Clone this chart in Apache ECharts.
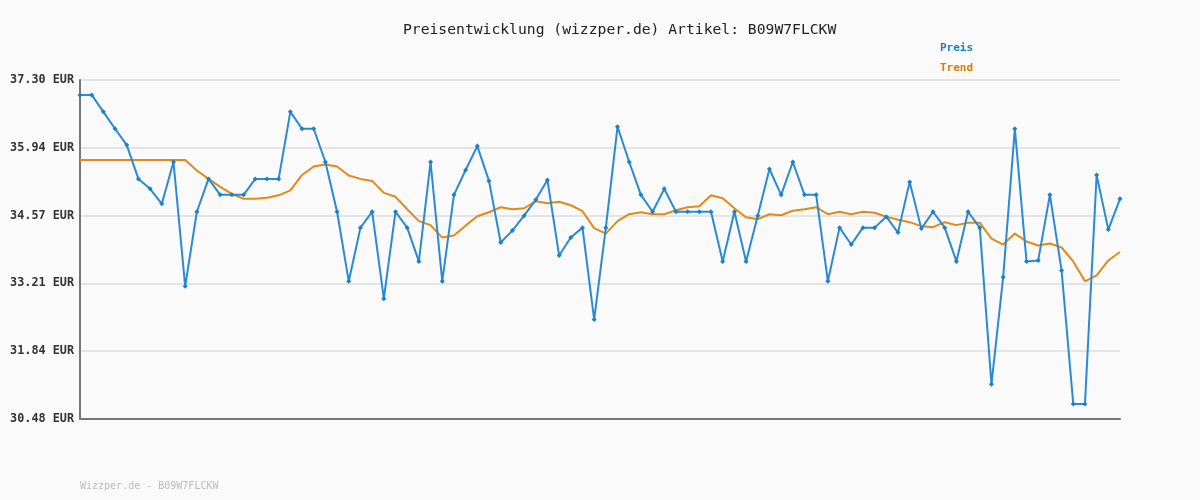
<!DOCTYPE html>
<html><head><meta charset="utf-8">
<script src="https://cdn.jsdelivr.net/npm/echarts@6/dist/echarts.min.js"></script>
<style>html,body{margin:0;padding:0;background:#fafafa}#c{width:1200px;height:500px}</style>
</head><body><div id="c"></div>
<script>
const titleText = 'Preisentwicklung (wizzper.de) Artikel: B09W7FLCKW';
const footerText = 'Wizzper.de - B09W7FLCKW';
const seriesNames = ['Preis', 'Trend'];
const yMin = 30.48, yMax = 37.30;
const preis = [
37.00,37.00,36.66,36.32,35.99,35.31,35.11,34.81,35.65,33.15,
34.65,35.31,34.99,34.99,34.99,35.31,35.31,35.31,36.66,36.32,
36.32,35.65,34.65,33.25,34.33,34.65,32.90,34.65,34.33,33.65,
35.65,33.25,34.99,35.49,35.97,35.27,34.03,34.27,34.57,34.89,
35.29,33.77,34.13,34.33,32.48,34.33,36.36,35.65,34.99,34.65,
35.11,34.65,34.65,34.65,34.65,33.65,34.65,33.65,34.57,35.51,
34.99,35.65,34.99,34.99,33.25,34.33,33.99,34.33,34.33,34.55,
34.23,35.25,34.31,34.65,34.33,33.65,34.65,34.33,31.18,33.33,
36.32,33.65,33.67,34.99,33.47,30.78,30.78,35.39,34.29,34.91];
const trend = [
35.69,35.69,35.69,35.69,35.69,35.69,35.69,35.69,35.69,35.69,
35.48,35.31,35.15,35.01,34.91,34.91,34.93,34.98,35.08,35.39,
35.56,35.60,35.56,35.38,35.31,35.27,35.03,34.95,34.70,34.46,
34.38,34.13,34.17,34.37,34.56,34.64,34.74,34.70,34.72,34.86,
34.82,34.85,34.78,34.66,34.32,34.21,34.46,34.60,34.64,34.60,
34.60,34.68,34.74,34.76,34.98,34.92,34.72,34.54,34.50,34.60,
34.58,34.67,34.70,34.74,34.60,34.65,34.60,34.65,34.63,34.55,
34.49,34.44,34.36,34.34,34.44,34.38,34.43,34.43,34.11,33.99,
34.21,34.05,33.97,34.01,33.93,33.65,33.25,33.37,33.67,33.84];
const categories = preis.map((_, i) => String(i + 1));
const mono = 'DejaVu Sans Mono';
const chart = echarts.init(document.getElementById('c'));
chart.setOption({
  backgroundColor: '#fafafa',
  animation: false,
  title: { text: titleText, left: 398, top: 18,
    textStyle: { fontFamily: mono, fontSize: 14.7, fontWeight: 'normal', color: '#222' } },
  legend: { orient: 'vertical', left: 930, top: 38, itemGap: 9, itemWidth: 0, itemHeight: 0, icon: 'none',
    data: [
      { name: seriesNames[0], textStyle: { color: '#1a80c8' } },
      { name: seriesNames[1], textStyle: { color: '#e07b00' } }
    ],
    textStyle: { fontFamily: mono, fontSize: 11, fontWeight: 'bold' } },
  graphic: [{ type: 'text', left: 80, top: 481,
    style: { text: footerText, fill: '#bbb', font: '10px ' + mono } }],
  grid: { left: 80, right: 80, top: 80, bottom: 81 },
  xAxis: { type: 'category', data: categories, boundaryGap: false,
    axisLine: { lineStyle: { color: '#777', width: 2 } },
    axisTick: { show: false }, axisLabel: { show: false }, splitLine: { show: false } },
  yAxis: { type: 'value', min: yMin, max: yMax, interval: (yMax - yMin) / 5,
    axisLine: { show: true, lineStyle: { color: '#777', width: 2 } },
    axisTick: { show: false },
    axisLabel: { formatter: v => v.toFixed(2) + ' EUR', fontFamily: mono, fontSize: 11.8,
      fontWeight: 'bold', color: '#333', margin: 6 },
    splitLine: { lineStyle: { color: '#e4e4e4', width: 2 } } },
  series: [
    { name: seriesNames[0], type: 'line', data: preis, symbol: 'diamond', symbolSize: 5,
      itemStyle: { color: '#1a80c8' }, lineStyle: { color: '#2a8ad4', width: 2 }, z: 3 },
    { name: seriesNames[1], type: 'line', data: trend, symbol: 'none',
      itemStyle: { color: '#e07b00' }, lineStyle: { color: '#e3891c', width: 2 }, z: 2 }
  ]
});
</script></body></html>
